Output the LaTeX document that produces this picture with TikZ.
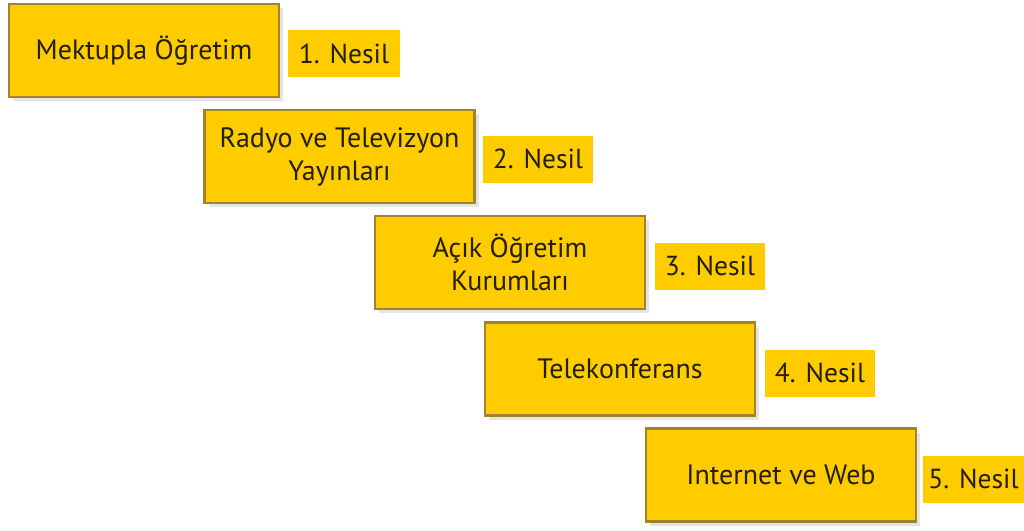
\documentclass[tikz,border=0pt]{standalone}
\usepackage{fontspec}
\setmainfont{PT Sans}
\usetikzlibrary{shadows}
\definecolor{gold}{HTML}{FFCC00}
\definecolor{goldedge}{HTML}{A0842C}
\definecolor{txt}{HTML}{241F08}
\tikzset{
  genbox/.style={draw=goldedge, line width=2.5pt, fill=gold, minimum width=270pt, minimum height=93pt,
    align=center, font=\fontsize{28}{33}\selectfont, text=txt, inner sep=0pt,
    drop shadow={shadow xshift=4pt, shadow yshift=-4pt, fill=black!10, opacity=1}},
  genlabel/.style={fill=gold, minimum height=47pt, inner sep=0pt,
    font=\fontsize{27.5}{32}\selectfont, text=txt}
}
\begin{document}
\begin{tikzpicture}[x=1pt,y=1pt]
\useasboundingbox (0,0) rectangle (1024,-530);
\node[genbox] (b1) at (144,-50.5) {Mektupla Öğretim};
\node[genlabel, minimum width=112pt] (l1) at (344,-53.5) {1. Nesil};
\node[genbox] (b2) at (339.5,-156.5) {Radyo ve Televizyon\\Yayınları};
\node[genlabel, minimum width=110pt] (l2) at (538,-159) {2. Nesil};
\node[genbox] (b3) at (510,-262.5) {Açık Öğretim\\Kurumları};
\node[genlabel, minimum width=110pt] (l3) at (710,-266) {3. Nesil};
\node[genbox] (b4) at (620,-369) {Telekonferans};
\node[genlabel, minimum width=110pt] (l4) at (820,-373) {4. Nesil};
\node[genbox] (b5) at (781,-475) {Internet ve Web};
\node[genlabel, minimum width=101pt] (l5) at (973.5,-479) {5. Nesil};
\end{tikzpicture}
\end{document}
